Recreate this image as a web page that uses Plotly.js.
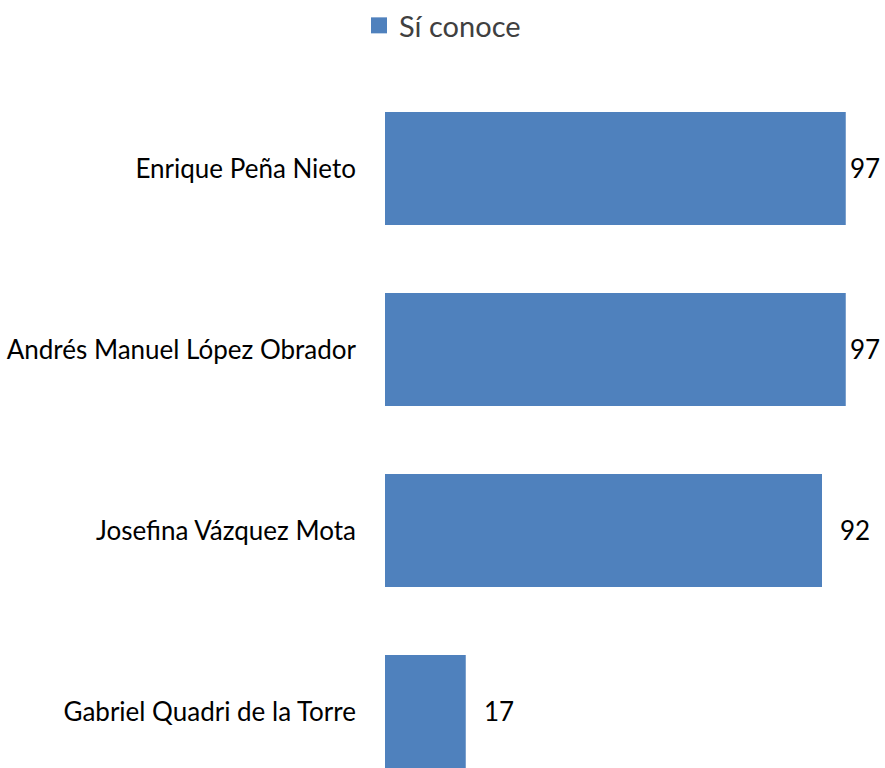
<!DOCTYPE html>
<html>
<head>
<meta charset="utf-8">
<script src="https://cdn.plot.ly/plotly-3.0.1.min.js"></script>
<style>html,body{margin:0;padding:0;background:#fff;}#chart{width:885px;height:768px;}</style>
</head>
<body>
<div id="chart"></div>
<script>
const categories = ["Enrique Peña Nieto", "Andrés Manuel López Obrador", "Josefina Vázquez Mota", "Gabriel Quadri de la Torre"];
const values = [97, 97, 92, 17];
const seriesName = "Sí conoce";
const barColor = "#4F81BD";
const FONT = "Lato, 'Open Sans', sans-serif";

const trace = {
  type: "bar",
  orientation: "h",
  y: categories,
  x: values,
  name: seriesName,
  marker: {color: barColor},
  width: 0.625,
  showlegend: false,
  hoverinfo: "x+y"
};

// legend-only entry (larger square swatch like the reference)
const legendEntry = {
  type: "scatter", mode: "markers",
  x: [null], y: [null],
  name: seriesName,
  marker: {symbol: "square", size: 16, color: barColor},
  showlegend: true, hoverinfo: "skip"
};

const annotations = values.map((v, i) => ({
  x: v, y: categories[i], xref: "x", yref: "y",
  text: String(v), showarrow: false,
  xanchor: "left", yanchor: "middle",
  xshift: v >= 95 ? 2 : 16,
  font: {family: FONT, size: 26, color: "#000"}
}));

const layout = {
  width: 885, height: 768,
  paper_bgcolor: "#fff", plot_bgcolor: "#fff",
  margin: {l: 385, r: 25, t: 78, b: 0, pad: 0},
  font: {family: FONT, color: "#000"},
  xaxis: {range: [0, 100], visible: false, fixedrange: true},
  yaxis: {
    type: "category",
    range: [3.3125, -0.5],
    showline: false, showgrid: false, zeroline: false,
    ticks: "", ticklabelstandoff: 28,
    tickfont: {family: FONT, size: 26, color: "#000"}
  },
  showlegend: true,
  legend: {
    orientation: "h",
    xref: "container", x: 0.5, xanchor: "center",
    yref: "container", y: 1.0, yanchor: "top",
    font: {family: FONT, size: 29, color: "#404040"},
    bgcolor: "rgba(0,0,0,0)"
  },
  annotations: annotations
};

Plotly.newPlot("chart", [trace, legendEntry], layout, {displayModeBar: false, staticPlot: true});
</script>
</body>
</html>
